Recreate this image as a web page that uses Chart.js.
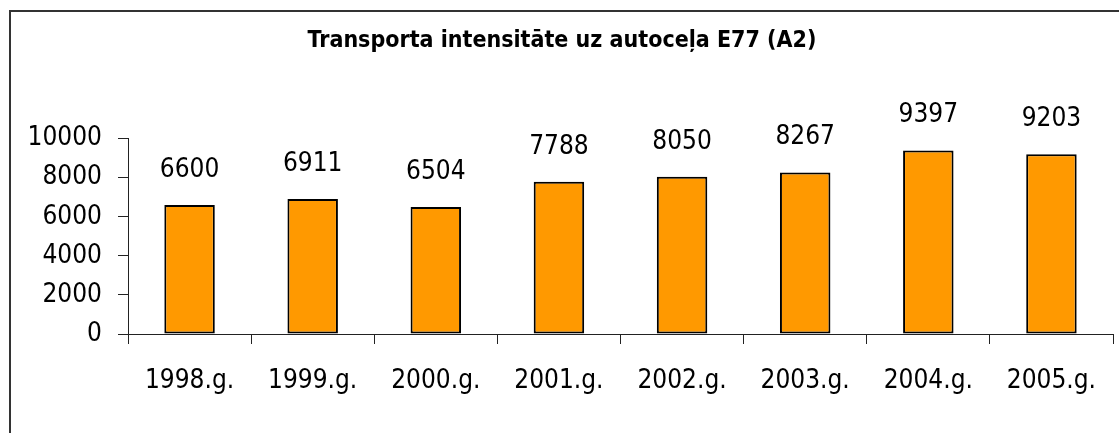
<!doctype html>
<html>
  <head>
    <meta charset="UTF-8">
    <title>Transporta intensitāte</title>
    <script src="https://cdn.jsdelivr.net/npm/chart.js@4/dist/chart.umd.min.js"></script>
    <style>
      body {
        margin: 0;
        background: #fff;
        overflow: hidden;
      }
      #frame {
        position: absolute;
        left: 9px;
        top: 10px;
        width: 2000px;
        height: 2000px;
        border: 2px solid #333;
      }
      #wrap {
        position: absolute;
        left: 0;
        top: 0;
        width: 1119px;
        height: 433px;
      }
    </style>
  </head>
  <body>
    <div id="frame"></div>
    <div id="wrap">
      <canvas id="barChart"></canvas>
    </div>
    <script>
      var years = ['1998.g.', '1999.g.', '2000.g.', '2001.g.', '2002.g.', '2003.g.', '2004.g.', '2005.g.']
      var traffic = [6600, 6911, 6504, 7788, 8050, 8267, 9397, 9203]
      var yTicks = [0, 2000, 4000, 6000, 8000, 10000]

      var fontFamily = "'DejaVu Sans Condensed', 'Liberation Sans Narrow', sans-serif"

      // value labels above bars, 28px gap from the bar top
      var valueLabels = {
        id: 'valueLabels',
        afterDatasetsDraw: function(chart) {
          var ctx = chart.ctx
          var meta = chart.getDatasetMeta(0)
          ctx.save()
          ctx.font = '26px ' + fontFamily
          ctx.fillStyle = '#000'
          ctx.textAlign = 'center'
          ctx.textBaseline = 'alphabetic'
          meta.data.forEach(function(bar, i) {
            ctx.fillText(String(traffic[i]), bar.x, bar.y - 28)
          })
          ctx.restore()
        }
      }

      var ctx = document.getElementById('barChart').getContext('2d')
      var myBarChart = new Chart(ctx, {
        type: 'bar',
        data: {
          labels: years,
          datasets: [{
            data: traffic,
            backgroundColor: '#FF9900',
            borderColor: '#000',
            borderWidth: 2,
            borderSkipped: false,
            barPercentage: 0.41,
            categoryPercentage: 1
          }]
        },
        plugins: [valueLabels],
        options: {
          responsive: true,
          maintainAspectRatio: false,
          animation: false,
          layout: {
            padding: { left: 11, right: 6, top: 0, bottom: 0 }
          },
          plugins: {
            legend: { display: false },
            tooltip: { enabled: false },
            title: {
              display: true,
              text: 'Transporta intensitāte uz autoceļa E77 (A2)',
              color: '#000',
              font: { family: fontFamily, size: 23, weight: 'bold' },
              padding: { top: 27, bottom: 84 }
            }
          },
          scales: {
            x: {
              offset: true,
              grid: {
                offset: true,
                drawOnChartArea: false,
                tickLength: 10,
                color: '#222'
              },
              border: { color: '#222', width: 1 },
              ticks: {
                color: '#000',
                padding: 22,
                maxRotation: 0,
                font: { family: fontFamily, size: 26 }
              },
              afterFit: function(scale) { scale.height = 99 }
            },
            y: {
              min: 0,
              max: 10000,
              afterBuildTicks: function(scale) {
                scale.ticks = yTicks.map(function(v) { return { value: v } })
              },
              grid: {
                drawOnChartArea: false,
                tickLength: 10,
                color: '#222'
              },
              border: { color: '#222', width: 1 },
              ticks: {
                color: '#000',
                padding: 16,
                font: { family: fontFamily, size: 26 },
                callback: function(value) { return String(value) }
              },
              afterFit: function(scale) { scale.width = 117 }
            }
          }
        }
      })
    </script>
  </body>
</html>
